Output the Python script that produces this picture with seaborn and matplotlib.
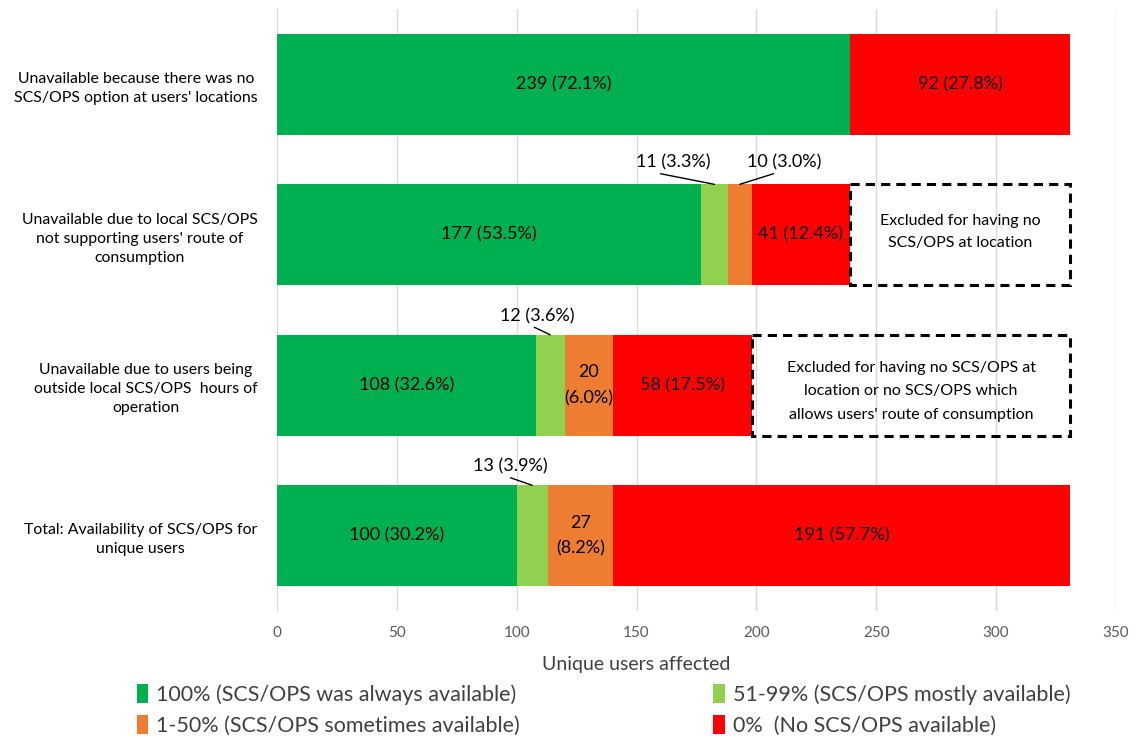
import matplotlib
matplotlib.use("Agg")
import matplotlib.pyplot as plt
from matplotlib.patches import Patch, Rectangle
import seaborn as sns
import numpy as np
import pandas as pd

categories = [
    "Unavailable because there was no\nSCS/OPS option at users' locations",
    "Unavailable due to local SCS/OPS\nnot supporting users' route of\nconsumption",
    "Unavailable due to users being\noutside local SCS/OPS  hours of\noperation",
    "Total: Availability of SCS/OPS for\nunique users",
]
series_names = [
    "100% (SCS/OPS was always available)",
    "51-99% (SCS/OPS mostly available)",
    "1-50% (SCS/OPS sometimes available)",
    "0%  (No SCS/OPS available)",
]
always = [239, 177, 108, 100]
mostly = [0, 11, 12, 13]
sometimes = [0, 10, 20, 27]
never = [92, 41, 58, 191]
always_pct = [72.1, 53.5, 32.6, 30.2]
mostly_pct = [0, 3.3, 3.6, 3.9]
sometimes_pct = [0, 3.0, 6.0, 8.2]
never_pct = [27.8, 12.4, 17.5, 57.7]
excluded_text = [
    None,
    "Excluded for having no\nSCS/OPS at location",
    "Excluded for having no SCS/OPS at\nlocation or no SCS/OPS which\nallows users' route of consumption",
    None,
]
full_total = 331
colors = ["#00B050", "#92D050", "#ED7D31", "#FF0000"]

sns.set_theme(style="white")
plt.rcParams["font.family"] = ["Lato", "DejaVu Sans"]

fig = plt.figure(figsize=(11.43, 7.4), dpi=100)
ax = fig.add_axes([0.2423, 0.1743, 0.7341, 0.8135])

vals = np.array([always, mostly, sometimes, never], dtype=float)
cum = np.cumsum(vals, axis=0)
df = pd.DataFrame({"cat": categories})
for i in range(4):
    df[f"c{i}"] = cum[i]

H = 0.67
for i in [3, 2, 1, 0]:
    sns.barplot(data=df, x=f"c{i}", y="cat", orient="h", color=colors[i],
                width=H, ax=ax, saturation=1, linewidth=0, order=categories)

fs = 13
tkw = dict(ha="center", va="center", fontsize=fs, color="black", zorder=10)
starts = cum - vals
callout = {  # (text x offset from segment centre, relpos x)
    (1, 1): (-17, 0.1),
    (2, 1): (18.5, 0.5),
    (1, 2): (-5.5, 0.37),
    (1, 3): (-9.3, 0.38),
}
for j in range(4):
    ax.text(starts[0, j] + vals[0, j] / 2, j, f"{always[j]} ({always_pct[j]}%)", **tkw)
    ax.text(starts[3, j] + vals[3, j] / 2, j, f"{never[j]} ({never_pct[j]}%)", **tkw)
    if j >= 2:
        ax.text(starts[2, j] + vals[2, j] / 2, j, f"{sometimes[j]}\n({sometimes_pct[j]}%)",
                linespacing=1.75, **tkw)
    for s in (1, 2):
        if (s, j) in callout:
            dx, rp = callout[(s, j)]
            cx = starts[s, j] + vals[s, j] / 2
            dy = 0.146 if j == 1 else 0.126
            val = mostly[j] if s == 1 else sometimes[j]
            pct = mostly_pct[j] if s == 1 else sometimes_pct[j]
            ax.annotate(f"{val} ({pct}%)", xy=(cx, j - H / 2),
                        xytext=(cx + dx, j - H / 2 - dy), ha="center", va="center",
                        fontsize=fs, color="black", zorder=10,
                        arrowprops=dict(arrowstyle="-", color="black", lw=1,
                                        shrinkA=0, shrinkB=0, relpos=(rp, 0.0)))
    if excluded_text[j]:
        x0 = cum[3, j]
        ax.add_patch(Rectangle((x0, j - H / 2), full_total - x0, H, fill=False,
                               edgecolor="black", linestyle=(0, (3, 2)), lw=2.2,
                               zorder=5))
        ax.text((x0 + full_total) / 2, j - 0.02 if j == 1 else j + 0.04,
                excluded_text[j], ha="center", va="center", fontsize=11.5,
                linespacing=1.7 if j == 1 else 1.85, color="black", zorder=10)

ax.set_xlim(0, 350)
ax.set_ylim(3.5, -0.5)
ax.set_xticks(np.arange(0, 351, 50))
ax.xaxis.grid(True, color="#D9D9D9", lw=1)
ax.set_axisbelow(True)
for s in ax.spines.values():
    s.set_visible(False)
ax.tick_params(axis="x", length=0, labelsize=11, labelcolor="#595959", pad=11)
ax.tick_params(axis="y", length=0, labelsize=11.4, pad=14, labelcolor="black")
for t in ax.get_yticklabels():
    t.set_multialignment("center")
    t.set_linespacing(1.45)
ax.set_ylabel("")
ax.set_xlabel("Unique users affected", fontsize=14, color="#404040", labelpad=10)
ax.xaxis.set_label_coords(0.428, -0.075)

order = [0, 2, 1, 3]
handles = [Patch(facecolor=colors[k], edgecolor="none") for k in order]
labels = [series_names[k] for k in order]
fig.legend(handles, labels, loc="upper left", bbox_to_anchor=(0.1195, 0.0757),
           ncol=2, frameon=False, fontsize=15.5, handlelength=0.55, handleheight=1.0,
           handletextpad=0.35, columnspacing=9.0, labelspacing=0.45,
           borderaxespad=0, borderpad=0, labelcolor="#404040")

fig.savefig("out.png", dpi=100)
